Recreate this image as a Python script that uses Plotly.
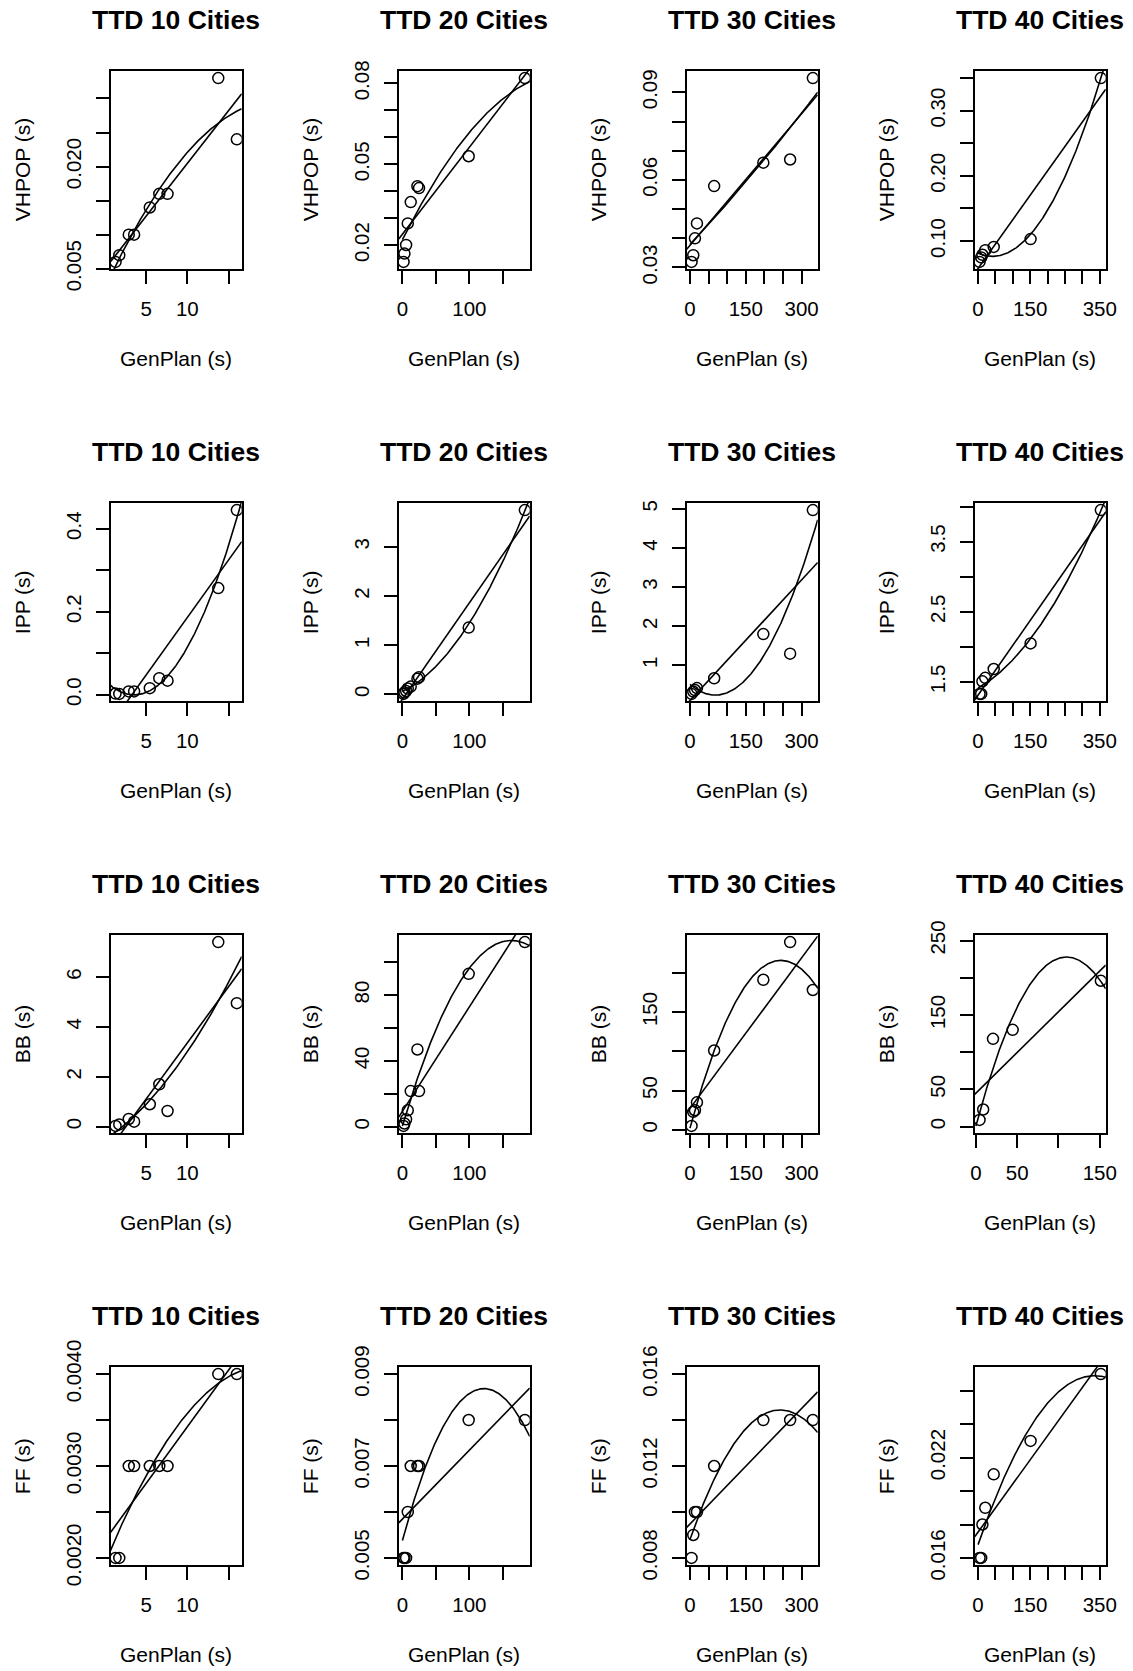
import numpy as np
import plotly.graph_objects as go

# ------------------------------------------------------------------ data
titles = ["TTD 10 Cities", "TTD 20 Cities", "TTD 30 Cities", "TTD 40 Cities"]
planners = ["VHPOP", "IPP", "BB", "FF"]

# GenPlan (s) times per problem size
genplan_10 = [1.3, 1.75, 2.9, 3.55, 5.45, 6.6, 7.6, 13.75, 16.0]
genplan_20 = [1.7, 3.0, 5.5, 8.0, 12.4, 22.4, 24.8, 98.9, 182.7]
genplan_30 = [4.3, 8.9, 13.4, 18.8, 65.0, 197.0, 269.0, 330.0]
genplan_40 = [4.3, 9.0, 12.5, 20.7, 45.0, 151.0, 353.0]
genplan_40_bb = [4.4, 8.8, 20.7, 44.5, 151.3]

# other planners (s)
vhpop_10 = [0.006, 0.007, 0.010, 0.010, 0.014, 0.016, 0.016, 0.033, 0.024]
vhpop_20 = [0.0138, 0.0169, 0.0201, 0.0281, 0.0360, 0.0419, 0.0412, 0.0530, 0.0820]
vhpop_30 = [0.0319, 0.0342, 0.0400, 0.0451, 0.0579, 0.0659, 0.0670, 0.0949]
vhpop_40 = [0.068, 0.075, 0.079, 0.086, 0.091, 0.103, 0.350]

ipp_10 = [0.003, 0.002, 0.008, 0.008, 0.016, 0.040, 0.034, 0.257, 0.445]
ipp_20 = [0.01, 0.04, 0.07, 0.12, 0.16, 0.32, 0.35, 1.36, 3.75]
ipp_30 = [0.27, 0.33, 0.37, 0.42, 0.67, 1.80, 1.30, 4.97]
ipp_40 = [1.33, 1.33, 1.51, 1.56, 1.685, 2.05, 3.95]

bb_10 = [0.03, 0.09, 0.31, 0.20, 0.90, 1.70, 0.63, 7.40, 4.95]
bb_20 = [0.5, 2.0, 4.5, 10.0, 21.7, 47.0, 21.7, 93.0, 112.3]
bb_30 = [5, 23, 25, 35, 101, 191, 239, 178]
bb_40 = [9, 23, 118, 130, 196]

ff_10 = [0.002, 0.002, 0.003, 0.003, 0.003, 0.003, 0.003, 0.004, 0.004]
ff_20 = [0.005, 0.005, 0.005, 0.006, 0.007, 0.007, 0.007, 0.008, 0.008]
ff_30 = [0.008, 0.009, 0.010, 0.010, 0.012, 0.014, 0.014, 0.014]
ff_40 = [0.016, 0.016, 0.018, 0.019, 0.021, 0.023, 0.027]

# x tick values / labels
xt_10, xl_10 = [5, 10, 15], ["5", "10", ""]
xt_20, xl_20 = [0, 50, 100, 150], ["0", "", "100", ""]
xt_30, xl_30 = [0, 50, 100, 150, 200, 250, 300], ["0", "", "", "150", "", "", "300"]
xt_40, xl_40 = [0, 50, 100, 150, 200, 250, 300, 350], ["0", "", "", "150", "", "", "", "350"]
xt_40_bb, xl_40_bb = [0, 50, 100, 150], ["0", "50", "", "150"]

# y tick values / labels
yt_vhpop_10 = [0.005, 0.010, 0.015, 0.020, 0.025, 0.030]
yl_vhpop_10 = ["0.005", "", "", "0.020", "", ""]
yt_vhpop_20 = [0.02, 0.03, 0.04, 0.05, 0.06, 0.07, 0.08]
yl_vhpop_20 = ["0.02", "", "", "0.05", "", "", "0.08"]
yt_vhpop_30 = [0.03, 0.04, 0.05, 0.06, 0.07, 0.08, 0.09]
yl_vhpop_30 = ["0.03", "", "", "0.06", "", "", "0.09"]
yt_vhpop_40 = [0.10, 0.15, 0.20, 0.25, 0.30, 0.35]
yl_vhpop_40 = ["0.10", "", "0.20", "", "0.30", ""]

yt_ipp_10 = [0.0, 0.1, 0.2, 0.3, 0.4]
yl_ipp_10 = ["0.0", "", "0.2", "", "0.4"]
yt_ipp_20 = [0, 1, 2, 3]
yl_ipp_20 = ["0", "1", "2", "3"]
yt_ipp_30 = [1, 2, 3, 4, 5]
yl_ipp_30 = ["1", "2", "3", "4", "5"]
yt_ipp_40 = [1.5, 2.0, 2.5, 3.0, 3.5, 4.0]
yl_ipp_40 = ["1.5", "", "2.5", "", "3.5", ""]

yt_bb_10 = [0, 2, 4, 6]
yl_bb_10 = ["0", "2", "4", "6"]
yt_bb_20 = [0, 20, 40, 60, 80, 100]
yl_bb_20 = ["0", "", "40", "", "80", ""]
yt_bb_30 = [0, 50, 100, 150, 200]
yl_bb_30 = ["0", "50", "", "150", ""]
yt_bb_40 = [0, 50, 100, 150, 200, 250]
yl_bb_40 = ["0", "50", "", "150", "", "250"]

yt_ff_10 = [0.0020, 0.0025, 0.0030, 0.0035, 0.0040]
yl_ff_10 = ["0.0020", "", "0.0030", "", "0.0040"]
yt_ff_20 = [0.005, 0.006, 0.007, 0.008, 0.009]
yl_ff_20 = ["0.005", "", "0.007", "", "0.009"]
yt_ff_30 = [0.008, 0.010, 0.012, 0.014, 0.016]
yl_ff_30 = ["0.008", "", "0.012", "", "0.016"]
yt_ff_40 = [0.016, 0.018, 0.020, 0.022, 0.024, 0.026]
yl_ff_40 = ["0.016", "", "", "0.022", "", ""]

# panels whose y limits were wider than their plotted points
ylim_ff_20 = [0.005, 0.009]
ylim_ff_30 = [0.008, 0.016]
ylim_bb_40 = [0.9, 248.0]

panels = [
    # row 0: VHPOP
    dict(x=genplan_10, y=vhpop_10, xt=xt_10, xl=xl_10, yt=yt_vhpop_10, yl=yl_vhpop_10, ylim=None),
    dict(x=genplan_20, y=vhpop_20, xt=xt_20, xl=xl_20, yt=yt_vhpop_20, yl=yl_vhpop_20, ylim=None),
    dict(x=genplan_30, y=vhpop_30, xt=xt_30, xl=xl_30, yt=yt_vhpop_30, yl=yl_vhpop_30, ylim=None),
    dict(x=genplan_40, y=vhpop_40, xt=xt_40, xl=xl_40, yt=yt_vhpop_40, yl=yl_vhpop_40, ylim=None),
    # row 1: IPP
    dict(x=genplan_10, y=ipp_10, xt=xt_10, xl=xl_10, yt=yt_ipp_10, yl=yl_ipp_10, ylim=None),
    dict(x=genplan_20, y=ipp_20, xt=xt_20, xl=xl_20, yt=yt_ipp_20, yl=yl_ipp_20, ylim=None),
    dict(x=genplan_30, y=ipp_30, xt=xt_30, xl=xl_30, yt=yt_ipp_30, yl=yl_ipp_30, ylim=None),
    dict(x=genplan_40, y=ipp_40, xt=xt_40, xl=xl_40, yt=yt_ipp_40, yl=yl_ipp_40, ylim=None),
    # row 2: BB
    dict(x=genplan_10, y=bb_10, xt=xt_10, xl=xl_10, yt=yt_bb_10, yl=yl_bb_10, ylim=None),
    dict(x=genplan_20, y=bb_20, xt=xt_20, xl=xl_20, yt=yt_bb_20, yl=yl_bb_20, ylim=None),
    dict(x=genplan_30, y=bb_30, xt=xt_30, xl=xl_30, yt=yt_bb_30, yl=yl_bb_30, ylim=None),
    dict(x=genplan_40_bb, y=bb_40, xt=xt_40_bb, xl=xl_40_bb, yt=yt_bb_40, yl=yl_bb_40, ylim=ylim_bb_40),
    # row 3: FF
    dict(x=genplan_10, y=ff_10, xt=xt_10, xl=xl_10, yt=yt_ff_10, yl=yl_ff_10, ylim=None),
    dict(x=genplan_20, y=ff_20, xt=xt_20, xl=xl_20, yt=yt_ff_20, yl=yl_ff_20, ylim=ylim_ff_20),
    dict(x=genplan_30, y=ff_30, xt=xt_30, xl=xl_30, yt=yt_ff_30, yl=yl_ff_30, ylim=ylim_ff_30),
    dict(x=genplan_40, y=ff_40, xt=xt_40, xl=xl_40, yt=yt_ff_40, yl=yl_ff_40, ylim=None),
]

# ------------------------------------------------------------------ layout constants
W, H = 1133, 1671
BOX_L0, COL_STEP, BOX_W = 110.7, 288.0, 131.0
BOX_T0, ROW_STEP, BOX_H = 70.7, 432.0, 198.6
FONT = "Liberation Sans, Arial, Helvetica, sans-serif"
TICK_FS = 20.5
LAB_FS = 21
TITLE_FS = 26.5


def r_range(lo, hi):
    d = hi - lo
    return [lo - 0.04 * d, hi + 0.04 * d]


fig = go.Figure()
layout = dict(
    template="none",
    width=W, height=H, autosize=False,
    margin=dict(l=0, r=0, t=0, b=0, pad=0, autoexpand=False),
    paper_bgcolor="white", plot_bgcolor="white",
    showlegend=False, font=dict(family=FONT, color="black"),
)
annotations = []

for k, p in enumerate(panels):
    r, c = divmod(k, 4)
    idx = k + 1
    xa = "x" if idx == 1 else f"x{idx}"
    ya = "y" if idx == 1 else f"y{idx}"
    x = np.array(p["x"], dtype=float)
    y = np.array(p["y"], dtype=float)
    xr = r_range(x.min(), x.max())
    yr = r_range(*(p["ylim"] if p["ylim"] else (y.min(), y.max())))

    # points
    fig.add_trace(go.Scatter(
        x=x, y=y, mode="markers", xaxis=xa, yaxis=ya,
        marker=dict(symbol="circle-open", size=11, color="black",
                    line=dict(width=1.5, color="black")),
        hoverinfo="skip"))
    # linear fit across the whole panel
    b1 = np.polyfit(x, y, 1)
    xs1 = np.array(xr)
    fig.add_trace(go.Scatter(
        x=xs1, y=np.polyval(b1, xs1), mode="lines", xaxis=xa, yaxis=ya,
        line=dict(color="black", width=1.6), hoverinfo="skip"))
    # quadratic fit from 0 to the right edge
    b2 = np.polyfit(x, y, 2)
    xs2 = np.linspace(0, xr[1], 300)
    fig.add_trace(go.Scatter(
        x=xs2, y=np.polyval(b2, xs2), mode="lines", xaxis=xa, yaxis=ya,
        line=dict(color="black", width=1.6), hoverinfo="skip"))

    L = BOX_L0 + COL_STEP * c
    T = BOX_T0 + ROW_STEP * r
    common = dict(
        showgrid=False, zeroline=False, showline=True, mirror=True,
        linecolor="black", linewidth=1.7, automargin=False,
        ticks="outside", ticklen=12.5, tickwidth=1.6, tickcolor="black",
        tickfont=dict(family=FONT, size=TICK_FS, color="black"),
        fixedrange=True,
    )
    layout["xaxis" if idx == 1 else f"xaxis{idx}"] = dict(
        common, domain=[L / W, (L + BOX_W) / W], range=xr,
        tickmode="array", tickvals=p["xt"], ticktext=p["xl"],
        anchor=ya, ticklabelstandoff=8, tickangle=0)
    layout["yaxis" if idx == 1 else f"yaxis{idx}"] = dict(
        common, domain=[1 - (T + BOX_H) / H, 1 - T / H], range=yr,
        tickmode="array", tickvals=p["yt"], ticktext=p["yl"],
        anchor=xa, tickangle=-90, ticklabelstandoff=7)

    cx = (L + BOX_W / 2) / W
    annotations.append(dict(
        text=f"<b>{titles[c]}</b>", xref="paper", yref="paper",
        x=cx, y=1 - (T - 50.4) / H, xanchor="center", yanchor="middle",
        showarrow=False, font=dict(family=FONT, size=TITLE_FS, color="black")))
    annotations.append(dict(
        text="GenPlan (s)", xref="paper", yref="paper",
        x=cx, y=1 - (T + 287.3) / H, xanchor="center", yanchor="middle",
        showarrow=False, font=dict(family=FONT, size=LAB_FS, color="black")))
    annotations.append(dict(
        text=f"{planners[r]} (s)", xref="paper", yref="paper",
        x=(L - 88.5) / W, y=1 - (T + BOX_H / 2) / H, xanchor="center",
        yanchor="middle", textangle=-90, showarrow=False,
        font=dict(family=FONT, size=LAB_FS, color="black")))

layout["annotations"] = annotations
fig.update_layout(**layout)
fig.write_html("out.html")
